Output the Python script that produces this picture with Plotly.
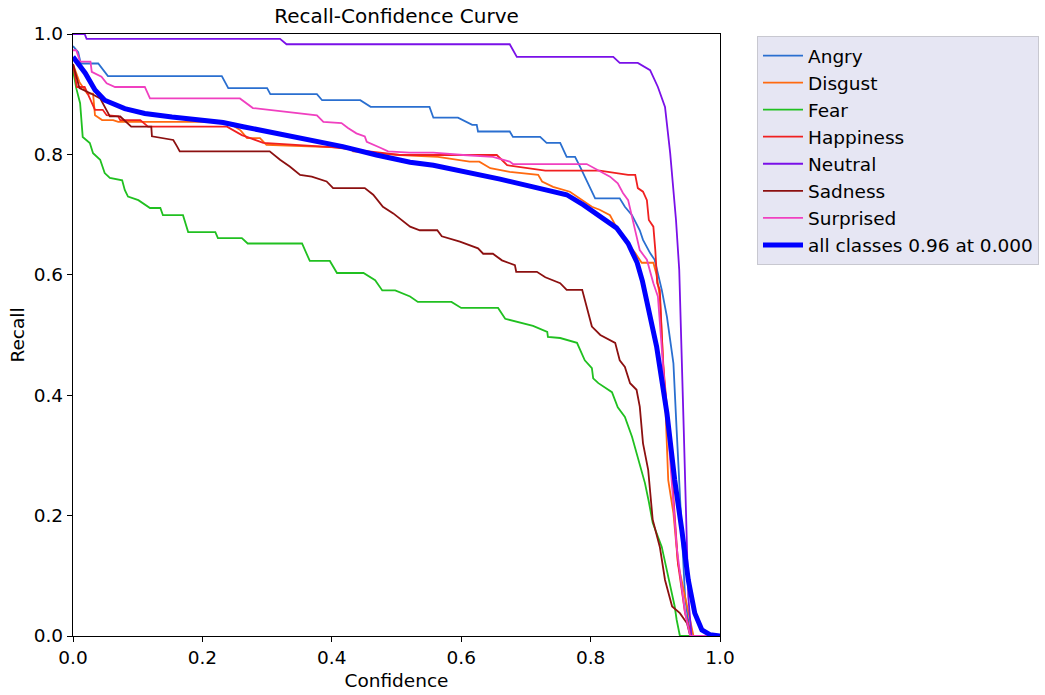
import plotly.graph_objects as go

# ---- data ----
angry_x = [0, 0.008, 0.012, 0.039, 0.054, 0.230, 0.240, 0.300, 0.305, 0.377, 0.385, 0.444, 0.460, 0.551, 0.557,
           0.595, 0.617, 0.624, 0.626, 0.675, 0.680, 0.722, 0.732, 0.753, 0.763, 0.776, 0.784, 0.799, 0.807, 0.845,
           0.853, 0.864, 0.876, 0.881, 0.892, 0.899, 0.904, 0.910, 0.918, 0.928, 0.933, 0.941, 0.946, 0.954, 1.0]
angry_y = [0.980, 0.970, 0.951, 0.951, 0.930, 0.930, 0.910, 0.910, 0.900, 0.900, 0.890, 0.890, 0.879, 0.879, 0.861,
           0.861, 0.849, 0.849, 0.838, 0.838, 0.829, 0.829, 0.819, 0.819, 0.796, 0.796, 0.779, 0.746, 0.727, 0.727,
           0.713, 0.699, 0.674, 0.658, 0.636, 0.625, 0.603, 0.575, 0.530, 0.453, 0.342, 0.176, 0.065, 0.0, 0.0]

disgust_x = [0, 0.010, 0.022, 0.031, 0.034, 0.045, 0.062, 0.070, 0.238, 0.259, 0.269, 0.289, 0.299, 0.428, 0.433,
             0.505, 0.564, 0.613, 0.628, 0.645, 0.675, 0.719, 0.725, 0.742, 0.768, 0.786, 0.802, 0.814, 0.830, 0.838,
             0.845, 0.853, 0.861, 0.869, 0.879, 0.897, 0.902, 0.907, 0.915, 0.920, 0.928, 0.935, 0.946, 0.959, 1.0]
disgust_y = [0.950, 0.920, 0.901, 0.901, 0.865, 0.857, 0.857, 0.854, 0.854, 0.840, 0.827, 0.827, 0.816, 0.811, 0.805,
             0.799, 0.796, 0.788, 0.788, 0.777, 0.771, 0.766, 0.755, 0.746, 0.738, 0.724, 0.713, 0.708, 0.699, 0.683,
             0.674, 0.661, 0.647, 0.636, 0.620, 0.620, 0.600, 0.563, 0.397, 0.259, 0.204, 0.121, 0.065, 0.0, 0.0]

fear_x = [0, 0.005, 0.011, 0.015, 0.026, 0.031, 0.042, 0.049, 0.057, 0.076, 0.080, 0.085, 0.101, 0.108, 0.119,
          0.135, 0.139, 0.170, 0.178, 0.220, 0.224, 0.261, 0.270, 0.354, 0.366, 0.397, 0.408, 0.449, 0.467, 0.478,
          0.498, 0.521, 0.533, 0.585, 0.600, 0.657, 0.668, 0.711, 0.733, 0.734, 0.753, 0.779, 0.791, 0.802, 0.804,
          0.812, 0.833, 0.842, 0.853, 0.864, 0.873, 0.884, 0.890, 0.896, 0.910, 0.918, 0.930, 0.933, 0.938, 1.0]
fear_y = [0.940, 0.910, 0.885, 0.829, 0.819, 0.802, 0.791, 0.769, 0.761, 0.757, 0.741, 0.730, 0.724, 0.719, 0.711,
          0.711, 0.699, 0.699, 0.671, 0.671, 0.661, 0.661, 0.652, 0.652, 0.623, 0.623, 0.603, 0.603, 0.591, 0.574,
          0.574, 0.564, 0.555, 0.555, 0.545, 0.545, 0.527, 0.515, 0.505, 0.497, 0.495, 0.487, 0.458, 0.445, 0.428,
          0.420, 0.405, 0.380, 0.364, 0.331, 0.297, 0.254, 0.223, 0.188, 0.148, 0.110, 0.049, 0.027, 0.0, 0.0]

happiness_x = [0, 0.006, 0.018, 0.026, 0.034, 0.046, 0.052, 0.070, 0.073, 0.104, 0.116, 0.238, 0.261, 0.274, 0.294,
               0.400, 0.505, 0.655, 0.671, 0.730, 0.814, 0.858, 0.869, 0.873, 0.881, 0.887, 0.890, 0.897, 0.900, 0.903,
               0.907, 0.912, 0.921, 0.928, 0.935, 0.946, 0.956, 1.0]
happiness_y = [0.950, 0.912, 0.912, 0.893, 0.874, 0.874, 0.865, 0.863, 0.857, 0.857, 0.846, 0.846, 0.832, 0.827, 0.819,
               0.812, 0.799, 0.799, 0.782, 0.773, 0.773, 0.766, 0.766, 0.744, 0.738, 0.724, 0.691, 0.680, 0.641, 0.586,
               0.575, 0.453, 0.342, 0.231, 0.121, 0.038, 0.0, 0.0]

neutral_x = [0, 0.018, 0.021, 0.320, 0.330, 0.675, 0.686, 0.835, 0.845, 0.873, 0.892, 0.904, 0.915, 0.923, 0.932,
             0.937, 0.944, 0.951, 0.956, 1.0]
neutral_y = [1.0, 1.0, 0.992, 0.992, 0.983, 0.983, 0.962, 0.962, 0.952, 0.952, 0.940, 0.912, 0.879, 0.802, 0.691,
             0.608, 0.342, 0.065, 0.0, 0.0]

sadness_x = [0, 0.010, 0.030, 0.042, 0.057, 0.073, 0.090, 0.121, 0.122, 0.155, 0.161, 0.165, 0.304, 0.320, 0.335,
             0.351, 0.369, 0.392, 0.402, 0.451, 0.464, 0.479, 0.495, 0.516, 0.521, 0.536, 0.563, 0.570, 0.598, 0.626,
             0.634, 0.649, 0.663, 0.683, 0.685, 0.717, 0.730, 0.753, 0.763, 0.787, 0.794, 0.802, 0.815, 0.838, 0.845,
             0.853, 0.861, 0.871, 0.876, 0.881, 0.889, 0.896, 0.907, 0.915, 0.926, 0.938, 0.949, 0.954, 1.0]
sadness_y = [0.950, 0.910, 0.900, 0.893, 0.863, 0.863, 0.846, 0.846, 0.830, 0.824, 0.813, 0.805, 0.805, 0.791, 0.780,
             0.766, 0.763, 0.755, 0.744, 0.744, 0.733, 0.713, 0.702, 0.683, 0.680, 0.674, 0.674, 0.664, 0.655, 0.644,
             0.635, 0.635, 0.624, 0.616, 0.605, 0.605, 0.596, 0.586, 0.575, 0.575, 0.547, 0.514, 0.500, 0.487, 0.458,
             0.447, 0.420, 0.409, 0.381, 0.320, 0.276, 0.193, 0.148, 0.093, 0.049, 0.038, 0.021, 0.0, 0.0]

surprised_x = [0, 0.005, 0.011, 0.027, 0.029, 0.044, 0.052, 0.065, 0.078, 0.111, 0.119, 0.258, 0.278, 0.377, 0.387,
               0.415, 0.425, 0.438, 0.451, 0.454, 0.475, 0.487, 0.520, 0.557, 0.603, 0.649, 0.675, 0.680, 0.794, 0.814,
               0.830, 0.842, 0.850, 0.858, 0.864, 0.867, 0.871, 0.876, 0.887, 0.892, 0.897, 0.904, 0.912, 0.923, 0.933,
               0.946, 0.954, 1.0]
surprised_y = [0.973, 0.973, 0.954, 0.954, 0.937, 0.929, 0.918, 0.912, 0.912, 0.912, 0.893, 0.893, 0.877, 0.865, 0.854,
               0.852, 0.844, 0.835, 0.830, 0.821, 0.811, 0.805, 0.803, 0.803, 0.799, 0.796, 0.788, 0.784, 0.784, 0.773,
               0.763, 0.752, 0.736, 0.724, 0.697, 0.680, 0.663, 0.641, 0.625, 0.603, 0.586, 0.564, 0.453, 0.287, 0.148,
               0.038, 0.0, 0.0]

all_x = [0, 0.019, 0.034, 0.049, 0.080, 0.111, 0.153, 0.196, 0.232, 0.263, 0.340, 0.417, 0.469, 0.521, 0.557, 0.608,
         0.660, 0.711, 0.763, 0.789, 0.814, 0.840, 0.858, 0.872, 0.880, 0.902, 0.918, 0.930, 0.941, 0.951, 0.961,
         0.972, 0.985, 1.0]
all_y = [0.962, 0.935, 0.907, 0.890, 0.876, 0.868, 0.862, 0.857, 0.853, 0.846, 0.830, 0.813, 0.799, 0.787, 0.782,
         0.771, 0.759, 0.746, 0.733, 0.716, 0.697, 0.678, 0.652, 0.620, 0.590, 0.481, 0.370, 0.259, 0.176, 0.093,
         0.038, 0.010, 0.002, 0.0]

class_names = ["Angry", "Disgust", "Fear", "Happiness", "Neutral", "Sadness", "Surprised"]
all_label = "all classes 0.96 at 0.000"

series = [
    (angry_x, angry_y, "#2a6fd0"),
    (disgust_x, disgust_y, "#ff6a10"),
    (fear_x, fear_y, "#20c020"),
    (happiness_x, happiness_y, "#f02020"),
    (neutral_x, neutral_y, "#7a10e8"),
    (sadness_x, sadness_y, "#8c1010"),
    (surprised_x, surprised_y, "#f040c0"),
]

fig = go.Figure()
for name, (xs, ys, col) in zip(class_names, series):
    fig.add_trace(go.Scatter(x=xs, y=ys, mode="lines", name=name,
                             line=dict(color=col, width=1.8)))
fig.add_trace(go.Scatter(x=all_x, y=all_y, mode="lines", name=all_label,
                         line=dict(color="#0000ff", width=5)))

FONT = "DejaVu Sans"
axis_common = dict(
    range=[0, 1], showline=True, linecolor="black", linewidth=1.3, mirror=True,
    ticks="outside", ticklen=5, tickcolor="black", tickwidth=1.3, dtick=0.2, tickformat=".1f",
    showgrid=False, zeroline=False, automargin=False,
    tickfont=dict(family=FONT, size=18.5, color="black"),
)

fig.update_layout(
    width=1045, height=695,
    margin=dict(l=73, r=325, t=34, b=59),
    paper_bgcolor="white", plot_bgcolor="white",
    font=dict(family=FONT, color="black"),
    title=dict(text="Recall-Confidence Curve", x=0.5, xref="paper", xanchor="center",
               y=1 - 16 / 695, yref="container", yanchor="middle",
               font=dict(family=FONT, size=20, color="black")),
    xaxis=dict(axis_common, title=dict(text="Confidence", standoff=6,
                                       font=dict(family=FONT, size=18.5, color="black"))),
    yaxis=dict(axis_common, title=dict(text="Recall", standoff=4,
                                       font=dict(family=FONT, size=18.5, color="black"))),
    legend=dict(x=757 / 1045, y=(695 - 36) / 695, xref="container", yref="container",
                xanchor="left", yanchor="top",
                bgcolor="#e6e6f3", bordercolor="#c8c8d0", borderwidth=1,
                font=dict(family=FONT, size=18.5, color="black"),
                itemwidth=40, tracegroupgap=0),
    showlegend=True,
)

fig.write_html("out.html")
